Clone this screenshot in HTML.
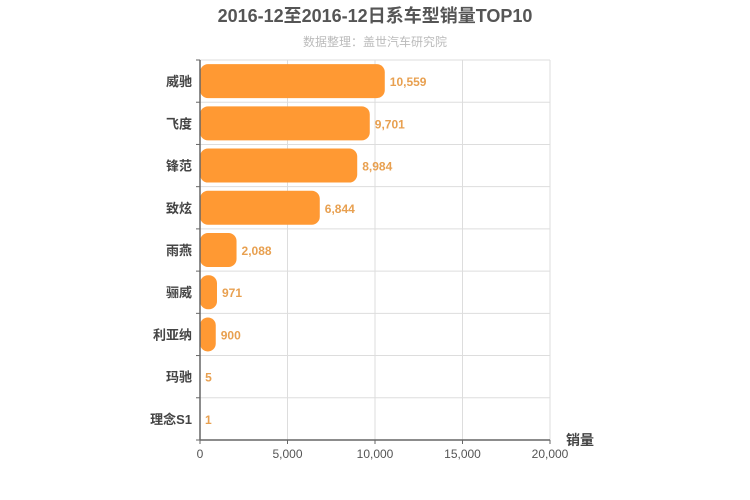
<!DOCTYPE html>
<html><head><meta charset="utf-8">
<style>
body{margin:0;background:#fff;}
svg{display:block;font-family:"Liberation Sans","DejaVu Sans","Noto Sans CJK SC",sans-serif;}
</style></head>
<body>
<svg id="chart" width="750" height="500">
<text x="375" y="22" text-anchor="middle" font-size="18" font-weight="bold" fill="#555">2016-12至2016-12日系车型销量TOP10</text>
<text x="375" y="46" text-anchor="middle" font-size="12" fill="#bbb">数据整理：盖世汽车研究院</text>
<text x="580" y="445" text-anchor="middle" font-size="14" font-weight="bold" fill="#444">销量</text>
<g id="grid"></g><g id="bars"></g><g id="axes"></g>
</svg>
<script>
const categories=["威驰","飞度","锋范","致炫","雨燕","骊威","利亚纳","玛驰","理念S1"];
const values=[10559,9701,8984,6844,2088,971,900,5,1];
const xTicks=[0,5000,10000,15000,20000];
const xTickLabels=["0","5,000","10,000","15,000","20,000"];
const NS="http://www.w3.org/2000/svg";
const L=200,R=550,T=60,B=440,MAX=20000;
const x=v=>L+(v/MAX)*(R-L);
const rowH=(B-T)/categories.length;
const y=i=>T+i*rowH;
function mk(tag,attrs,parent){const e=document.createElementNS(NS,tag);for(const k in attrs)e.setAttribute(k,attrs[k]);parent.appendChild(e);return e;}
const grid=document.getElementById('grid'),bars=document.getElementById('bars'),axes=document.getElementById('axes');
xTicks.forEach((t,i)=>{
  if(i>0){const g=mk('line',{x1:x(t),x2:x(t),y1:T,y2:B,stroke:'#ddd'},grid);
  
  }
  const tk=mk('line',{x1:x(t),x2:x(t),y1:B,y2:B+4,stroke:'#666'},axes);
  
  
  const lb=mk('text',{x:x(t),y:B+18,'text-anchor':'middle','font-size':12,fill:'#555'},axes);
  lb.textContent=xTickLabels[i];
  
  
});
for(let i=0;i<=categories.length;i++){
  const g=mk('line',{x1:L,x2:R,y1:y(i),y2:y(i),stroke:'#ddd'},grid);
  
  
  const tk=mk('line',{x1:L-4,x2:L,y1:y(i),y2:y(i),stroke:'#666'},axes);
  
  
}
categories.forEach((c,i)=>{
  const cy=y(i)+rowH/2;
  const w=Math.max(0,x(values[i])-L);
  const r=mk('rect',{x:L,y:cy-17,width:w,height:34,rx:Math.min(8,w/2),fill:'#ff9933'},bars);
  
  
  const v=mk('text',{x:L+w+5,y:cy+5,'font-size':12,'font-weight':'bold',fill:'#e8a050'},bars);
  v.textContent=values[i].toLocaleString('en-US');
  
  
  const lb=mk('text',{x:L-8,y:cy+5,'text-anchor':'end','font-size':13,'font-weight':'bold',fill:'#444'},axes);
  lb.textContent=c;
  
  
});
const ya=mk('line',{x1:L,x2:L,y1:T,y2:B,stroke:'#666','stroke-width':1.5},axes);


const xa=mk('line',{x1:L,x2:R,y1:B,y2:B,stroke:'#666','stroke-width':1.5},axes);


</script>
</body></html>
